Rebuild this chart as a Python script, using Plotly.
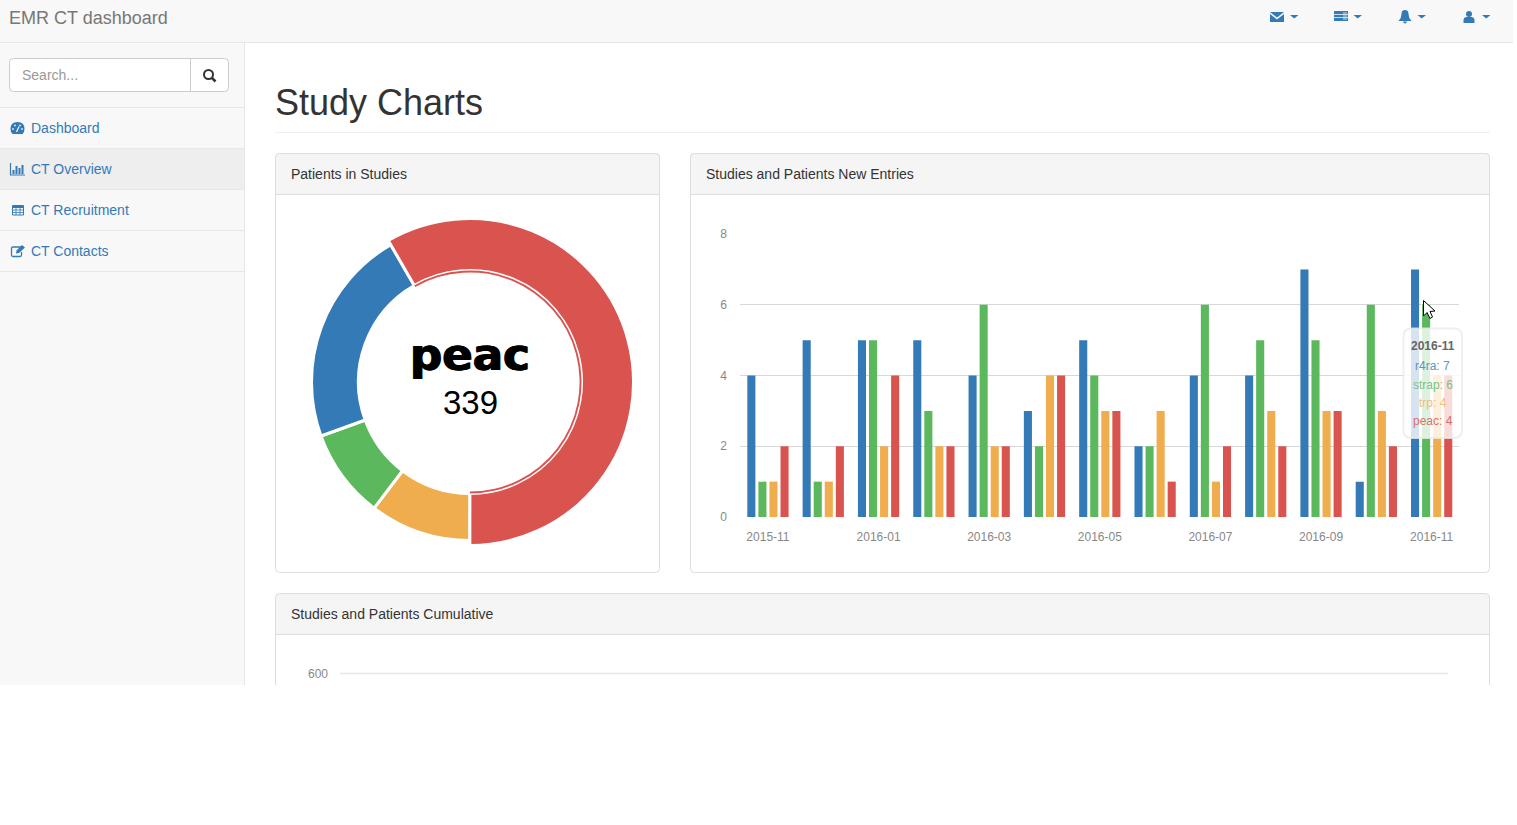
import plotly.graph_objects as go

W, H = 1517, 825

studies = ['r4ra', 'strap', 'trp', 'peac']
patients = [129, 53, 60, 339]
colors = ['#337ab7', '#5cb85c', '#f0ad4e', '#d9534f']
clear = 'rgba(0,0,0,0)'

months = ['2015-11', '2015-12', '2016-01', '2016-02', '2016-03', '2016-04', '2016-05',
          '2016-06', '2016-07', '2016-08', '2016-09', '2016-10', '2016-11']
r4ra = [4, 5, 5, 5, 4, 3, 5, 2, 4, 4, 7, 1, 7]
strap = [1, 1, 5, 3, 6, 2, 4, 2, 6, 5, 5, 6, 6]
trp = [1, 1, 2, 2, 2, 4, 3, 3, 1, 3, 3, 3, 4]
peac = [2, 2, 4, 2, 2, 4, 3, 1, 2, 2, 3, 2, 4]
month_ticks = ['2015-11', '2016-01', '2016-03', '2016-05', '2016-07', '2016-09', '2016-11']
count_ticks = [0, 2, 4, 6, 8]

nav_items = [('Dashboard', 128), ('CT Overview', 169), ('CT Recruitment', 210), ('CT Contacts', 251)]
panel_titles = [('Patients in Studies', 291, 174), ('Studies and Patients New Entries', 706, 174),
                ('Studies and Patients Cumulative', 291, 614)]
tooltip_rows = [('r4ra: 7', '#5d93c4', 366), ('strap: 6', '#7fbf7f', 385),
                ('trp: 4', '#f0bd7a', 403), ('peac: 4', '#d9706d', 421)]

shapes = []
notes = []


def rect(x0, y0, x1, y1, fill, line=None, layer='below'):
    shapes.append(dict(type='rect', xref='x', yref='y', x0=x0, y0=y0, x1=x1, y1=y1, layer=layer,
                       fillcolor=fill, line=dict(color=line or clear, width=1 if line else 0)))


def seg(x0, y0, x1, y1, color, width=1, layer='below'):
    shapes.append(dict(type='line', xref='x', yref='y', x0=x0, y0=y0, x1=x1, y1=y1, layer=layer,
                       line=dict(color=color, width=width)))


def path(d, fill=clear, line=None, width=1, layer='below'):
    shapes.append(dict(type='path', xref='x', yref='y', path=d, layer=layer, fillcolor=fill,
                       line=dict(color=line or clear, width=width if line else 0)))


def text(x, y, s, size=14, color='#333333', anchor='left', family='Liberation Sans', shadow=None):
    # annotations carry 1px of padding
    x = x - 1 if anchor == 'left' else x + 1 if anchor == 'right' else x
    font = dict(family=family, size=size, color=color)
    if shadow:
        font['shadow'] = shadow
    notes.append(dict(xref='x', yref='y', x=x, y=y, text=s, showarrow=False, xanchor=anchor,
                      yanchor='middle', borderpad=0, font=font))


def round_box(x0, y0, x1, y1, r=4):
    return (f'M{x0 + r},{y0} H{x1 - r} Q{x1},{y0} {x1},{y0 + r} V{y1 - r} Q{x1},{y1} {x1 - r},{y1} '
            f'H{x0 + r} Q{x0},{y1} {x0},{y1 - r} V{y0 + r} Q{x0},{y0} {x0 + r},{y0} Z')


# navbar and sidebar
rect(0, 0, 1513, 42, '#f8f8f8')
seg(0, 42.5, 1513, 42.5, '#e7e7e7')
rect(0, 43, 244, 685, '#f8f8f8')
seg(244.5, 43, 244.5, 685, '#e7e7e7')
rect(0, 149, 244, 189, '#eeeeee')
for y in [107.5, 148.5, 189.5, 230.5, 271.5]:
    seg(0, y, 244, y, '#e7e7e7')
text(9, 18, 'EMR CT dashboard', size=18, color='#777777')

path(round_box(9.5, 58.5, 228.5, 91.5), fill='#ffffff', line='#cccccc')
seg(190.5, 58.5, 190.5, 91.5, '#cccccc')
text(22, 75, 'Search...', color='#999999')
shapes.append(dict(type='circle', xref='x', yref='y', x0=204, y0=70, x1=213, y1=79, layer='below',
                   line=dict(color='#333333', width=2), fillcolor=clear))
seg(212, 78, 215.5, 81.5, '#333333', 2.5)

for label, y in nav_items:
    text(31, y, label, color='#337ab7')

# sidebar icons
blue = '#337ab7'
path('M12.5,134 Q10.5,132 10.5,129 Q10.5,122 17.5,122 Q24.5,122 24.5,129 Q24.5,132 22.5,134 Z', fill=blue)
for x, y in [(13, 129), (15, 125.5), (20, 125.5), (22, 129)]:
    rect(x - 0.8, y - 0.8, x + 0.8, y + 0.8, '#f8f8f8')
seg(16.5, 132, 19, 126.5, '#f8f8f8', 1.2)
path('M10.5,163 V175 H25', line=blue, width=1.2)
for x0, y0 in [(12.5, 170), (15.5, 166), (18.5, 168), (21.5, 165)]:
    rect(x0, y0, x0 + 2, 174, blue)
rect(12.5, 205.5, 23.5, 215, clear, line=blue)
seg(12, 207, 24, 207, blue, 2)
for x in [16, 20]:
    seg(x, 207, x, 215, blue, 0.8)
for y in [210, 212.5]:
    seg(12, y, 24, y, blue, 0.8)
path('M21,247 H13 Q11.5,247 11.5,248.5 V255 Q11.5,256.5 13,256.5 H20 Q21.5,256.5 21.5,255 V252', line=blue, width=1.3)
path('M16,253.5 L16.5,250.5 L22,245 L25,247.5 L19,253 Z', fill=blue)

# top right icons
path('M1270,12 H1284 L1277,17.5 Z', fill=blue)
path('M1270,14 L1277,19.5 L1284,14 V22 H1270 Z', fill=blue)
rect(1334, 11, 1348, 21, blue)
for y in [14.5, 17.5]:
    seg(1334, y, 1348, y, '#f8f8f8', 0.8)
seg(1343, 13, 1347, 13, '#f8f8f8', 0.8)
seg(1343, 16, 1347, 16, '#f8f8f8', 0.8)
seg(1343, 19, 1347, 19, '#f8f8f8', 0.8)
path('M1398.5,21 Q1401.5,18 1401.5,14 Q1401.5,10 1405,10 Q1408.5,10 1408.5,14 Q1408.5,18 1411.5,21 Z', fill=blue)
path('M1403,21.5 H1407 Q1406.5,23.5 1405,23.5 Q1403.5,23.5 1403,21.5 Z', fill=blue)
shapes.append(dict(type='circle', xref='x', yref='y', x0=1466, y0=11, x1=1472, y1=17, layer='below',
                   fillcolor=blue, line=dict(width=0)))
path('M1463.5,23 V20 Q1463.5,17.5 1466,17 H1472 Q1474.5,17.5 1474.5,20 V23 Z', fill=blue)
for x in [1290, 1353.5, 1417.5, 1482]:
    path(f'M{x},15 H{x + 8.5} L{x + 4.25},18.5 Z', fill=blue)

# page heading
text(275, 102, 'Study Charts', size=36)
seg(275, 132.5, 1490, 132.5, '#eeeeee')

# panels
for x0, x1 in [(275.5, 659.5), (690.5, 1489.5)]:
    path(round_box(x0, 153.5, x1, 572.5), fill='#ffffff', line='#dddddd')
    path(f'M{x0},194.5 V157.5 Q{x0},153.5 {x0 + 4},153.5 H{x1 - 4} Q{x1},153.5 {x1},157.5 V194.5 Z',
         fill='#f5f5f5', line='#dddddd')
path('M275.5,685 V634.5 H1489.5 V685', fill='#ffffff', line='#dddddd')
path('M275.5,634.5 V597.5 Q275.5,593.5 279.5,593.5 H1485.5 Q1489.5,593.5 1489.5,597.5 V634.5 Z',
     fill='#f5f5f5', line='#dddddd')
for label, x, y in panel_titles:
    text(x, y, label, color='#333333')

# cut off chart below
text(328, 674, '600', size=12, color='#888888', anchor='right')
seg(340, 673.5, 1448, 673.5, '#e6e6e6', 1.5)

# first and last gridline, plotly leaves these out at the range ends
for v in [count_ticks[0], count_ticks[-1]]:
    shapes.append(dict(type='line', xref='x2 domain', yref='y2', x0=0, x1=1, y0=v, y1=v, layer='below',
                       line=dict(color='#e6e6e6', width=1.5)))

# donut centre
text(470, 354, '<b>peac</b>', size=45, color='#000000', anchor='center', family='DejaVu Sans',
     shadow='0.8px 0 #000,-0.8px 0 #000')
text(470, 402, '339', size=33, color='#000000', anchor='center')

# tooltip over last group, and mouse pointer
path(round_box(1403.5, 328.5, 1462, 438, r=8), fill='rgba(255,255,255,0.8)',
     line='rgba(235,235,235,0.8)', width=2, layer='above')
text(1432.5, 346, '<b>2016-11</b>', size=12, color='#666666', anchor='center')
for label, col, y in tooltip_rows:
    text(1432.5, y, label, size=12, color=col, anchor='center')
path('M1423.5,300.5 V316 L1427,312.5 L1430,318.5 L1432.5,317 L1430,311.5 L1435,311 Z',
     fill='#ffffff', line='#000000', layer='above')

fig = go.Figure()


def donut(radius, hole_radius, cols, widths):
    cx, cy = 470, 382
    fig.add_trace(go.Pie(
        labels=studies[::-1], values=patients[::-1], sort=False, direction='clockwise', rotation=330,
        hole=hole_radius / radius, textinfo='none', showlegend=False, hoverinfo='skip',
        marker=dict(colors=cols[::-1], line=dict(color='#ffffff', width=widths[::-1])),
        domain=dict(x=[(cx - radius) / W, (cx + radius) / W],
                    y=[1 - (cy + radius) / H, 1 - (cy - radius) / H])))


donut(158.5, 111.5, colors[:3] + [clear], [3, 3, 3, 0])
donut(163.5, 111.5, [clear, clear, clear, colors[3]], [0, 0, 0, 3])
donut(111.5, 109.6, [clear, clear, clear, colors[3]], [0, 0, 0, 0])

for name, vals, col in zip(studies, [r4ra, strap, trp, peac], colors):
    fig.add_trace(go.Bar(x=months, y=vals, name=name, marker_color=col, marker_line_width=0,
                         xaxis='x2', yaxis='y2', showlegend=False))

fig.update_layout(
    template='none',
    width=W, height=H,
    margin=dict(l=0, r=0, t=0, b=0, autoexpand=False),
    paper_bgcolor='#ffffff',
    plot_bgcolor=clear,
    barmode='group', bargap=0.2, bargroupgap=0.27,
    shapes=shapes, annotations=notes,
    xaxis=dict(domain=[0, 1], range=[0, W], visible=False, fixedrange=True, automargin=False),
    yaxis=dict(domain=[0, 1], range=[H, 0], visible=False, fixedrange=True, automargin=False),
    xaxis2=dict(domain=[740.3 / W, 1459.3 / W], anchor='y2', type='category', tickmode='array',
                tickvals=month_ticks, ticktext=month_ticks, showgrid=False, zeroline=False,
                ticks='outside', ticklen=9, tickcolor=clear, showline=False, automargin=False,
                tickfont=dict(family='Liberation Sans', size=12, color='#888888')),
    yaxis2=dict(domain=[1 - 517 / H, 1 - 234 / H], anchor='x2', range=[0, 8], tickmode='array',
                tickvals=count_ticks, gridcolor='#d8d8d8', gridwidth=1, zeroline=False,
                ticks='outside', ticklen=10, tickcolor=clear, showline=False, automargin=False,
                tickfont=dict(family='Liberation Sans', size=12, color='#888888')),
)

fig.write_html("out.html", config=dict(displayModeBar=False),
               post_script="document.body.style.margin='0';document.body.style.overflow='hidden';")
